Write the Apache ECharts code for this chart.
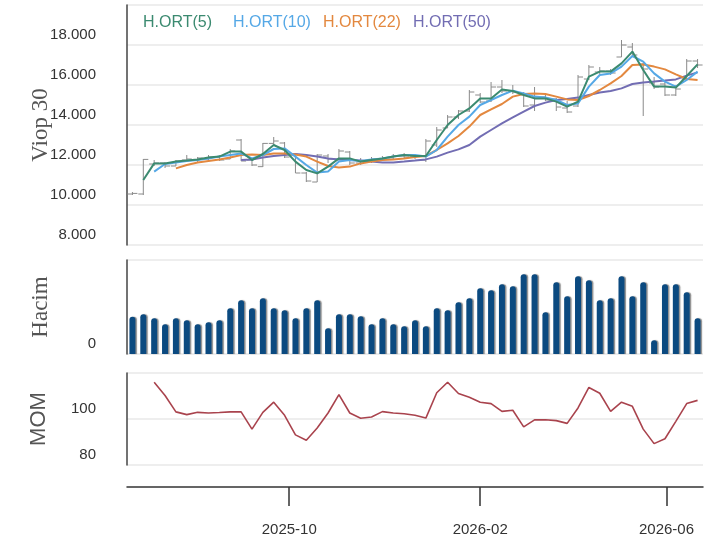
<!DOCTYPE html>
<html>
<head>
<meta charset="utf-8">
<script src="https://cdn.jsdelivr.net/npm/echarts@6/dist/echarts.min.js"></script>
<style>
  html, body { margin: 0; padding: 0; background: #fff; }
  #main { width: 727px; height: 545px; }
</style>
</head>
<body>
<div id="main"></div>
<script>
// weekly bars
const dates = [
  "2025-06-22", "2025-06-29", "2025-07-06", "2025-07-13", "2025-07-20", "2025-07-27",
  "2025-08-03", "2025-08-10", "2025-08-17", "2025-08-24", "2025-08-31",
  "2025-09-07", "2025-09-14", "2025-09-21", "2025-09-28",
  "2025-10-05", "2025-10-12", "2025-10-19", "2025-10-26",
  "2025-11-02", "2025-11-09", "2025-11-16", "2025-11-23", "2025-11-30",
  "2025-12-07", "2025-12-14", "2025-12-21", "2025-12-28",
  "2026-01-04", "2026-01-11", "2026-01-18", "2026-01-25",
  "2026-02-01", "2026-02-08", "2026-02-15", "2026-02-22",
  "2026-03-01", "2026-03-08", "2026-03-15", "2026-03-22", "2026-03-29",
  "2026-04-05", "2026-04-12", "2026-04-19", "2026-04-26",
  "2026-05-03", "2026-05-10", "2026-05-17", "2026-05-24", "2026-05-31",
  "2026-06-07", "2026-06-14", "2026-06-21"
];

const opens = [10550, 10550, 12050, 12100, 11950, 12250, 12250, 12300, 12400, 12300, 13250,
  12250, 11917, 13080, 13100, 12500, 11600, 11150, 12450, 12300, 12650, 12100, 12200,
  12300, 12350, 12450, 12400, 12250, 13000, 13850, 14400, 14700, 15500, 15200, 15900,
  15700, 15550, 15000, 15400, 15300, 14850, 14950, 16300, 16650, 16700, 17400, 17900,
  17050, 16100, 16050, 15500, 16300, 17200];
const closes = [10580, 12280, 12100, 11950, 12200, 12300, 12350, 12400, 12250, 12700, 12200,
  12000, 13080, 13200, 12400, 11600, 11200, 12500, 12300, 12700, 12100, 12200, 12300,
  12350, 12450, 12400, 12450, 13200, 13750, 14400, 14700, 15650, 15150, 15900, 15700,
  15650, 14950, 15400, 15250, 14900, 14650, 16400, 16900, 16700, 16600, 18000, 17500,
  16800, 15900, 15500, 15800, 17200, 17000];
const lows = [10500, 10500, 11950, 11850, 11950, 12200, 12150, 12250, 12200, 12300, 12200,
  11950, 11900, 12950, 12350, 11600, 11150, 11150, 12100, 12250, 12000, 12000, 12100,
  12200, 12300, 12350, 12300, 12150, 12900, 13850, 14300, 14650, 15100, 15150, 15600,
  15550, 14900, 14700, 15200, 14700, 14600, 14900, 16250, 16550, 16500, 17400, 17400,
  14450, 15800, 15450, 15450, 16300, 16850];
const highs = [10650, 12300, 12250, 12150, 12250, 12500, 12400, 12500, 12500, 12800, 13300,
  12300, 13100, 13400, 13150, 12600, 11650, 12550, 12550, 12800, 12700, 12350, 12400,
  12450, 12550, 12600, 12550, 13300, 13900, 14500, 14750, 15750, 15600, 16150, 16250,
  16000, 15650, 15900, 15550, 15350, 15200, 16500, 17000, 16900, 16800, 18250, 18100,
  17100, 16400, 16200, 16000, 17300, 17300];

const ma5 = [null, 11250, 12080, 12080, 12170, 12220, 12280, 12380, 12420, 12670, 12670,
  12250, 12550, 13000, 12750, 12170, 11750, 11580, 11920, 12330, 12330, 12170, 12250,
  12330, 12420, 12500, 12450, 12450, 13250, 14000, 14500, 14830, 15330, 15330, 15780,
  15700, 15500, 15330, 15330, 15170, 14920, 15170, 16420, 16670, 16670, 17080, 17670,
  16750, 15920, 15920, 15870, 16450, 17030];
const ma10 = [null, null, 11670, 12050, 12130, 12200, 12250, 12330, 12420, 12500, 12580,
  12330, 12500, 12800, 12830, 12420, 12000, 11620, 11670, 12170, 12250, 12200, 12280,
  12330, 12420, 12500, 12500, 12420, 12750, 13420, 14000, 14420, 15000, 15250, 15500,
  15720, 15580, 15420, 15370, 15250, 15000, 15080, 15920, 16500, 16580, 16920, 17450,
  17170, 16580, 16170, 15920, 16250, 16670];
const ma22 = [null, null, null, null, 11830, 12000, 12120, 12200, 12280, 12380, 12500,
  12530, 12500, 12580, 12580, 12530, 12420, 12170, 11950, 11880, 11920, 12080, 12170,
  12250, 12280, 12330, 12400, 12450, 12750, 13080, 13450, 13920, 14500, 14780, 15050,
  15420, 15550, 15580, 15550, 15420, 15280, 15250, 15450, 15750, 16080, 16450, 17000,
  17030, 16920, 16780, 16530, 16300, 16250];
const ma50 = [null, null, null, null, null, null, null, null, null, null, 12250,
  12280, 12380, 12450, 12500, 12550, 12500, 12420, 12330, 12280, 12250, 12220, 12170,
  12130, 12130, 12170, 12220, 12280, 12420, 12620, 12780, 13000, 13420, 13750, 14080,
  14380, 14670, 14950, 15120, 15250, 15300, 15370, 15500, 15620, 15700, 15830, 16050,
  16130, 16170, 16220, 16280, 16470, 16630];

const volumes = [397, 422, 380, 316, 380, 359, 316, 337, 359, 486, 571, 486, 593, 486,
  465, 380, 486, 571, 273, 422, 422, 401, 316, 380, 316, 295, 359, 295, 486, 465, 550,
  593, 699, 678, 741, 720, 848, 848, 444, 763, 614, 827, 784, 571, 593, 827, 614, 763,
  146, 741, 741, 656, 380];

const mom = [null, null, 116.0, 110.2, 103.1, 101.9, 102.9, 102.6, 102.8, 103.1, 103.1,
  95.6, 102.9, 107.3, 101.6, 93.1, 90.8, 96.1, 102.6, 110.6, 102.6, 100.3, 100.9, 103.2,
  102.6, 102.3, 101.6, 100.4, 111.4, 116.0, 111.1, 109.5, 107.3, 106.7, 103.3, 103.8,
  96.6, 99.6, 99.7, 99.3, 98.1, 104.8, 113.7, 111.2, 103.3, 107.3, 105.5, 95.6, 89.3,
  91.4, 99.0, 106.7, 108.1];

const dateTicks = ["2025-10-01", "2026-02-01", "2026-06-01"];

const maNames = ["H.ORT(5)", "H.ORT(10)", "H.ORT(22)", "H.ORT(50)"];
const maColors = ["#3b8a70", "#55a8e6", "#e3883f", "#726db3"];

document.addEventListener("DOMContentLoaded", function () {
  const chart = echarts.init(document.getElementById("main"));

  const dayMs = 24 * 3600 * 1000;
  const toTime = (s) => {
    const p = s.split("-");
    return new Date(+p[0], +p[1] - 1, +p[2]).getTime();
  };
  const xMin = toTime(dates[0]) - 3.5 * dayMs;
  const xMax = toTime(dates[dates.length - 1]) + 3.5 * dayMs;
  const tickValues = dateTicks.map(toTime);

  const thousands = (v) => String(v).replace(/\B(?=(\d{3})+(?!\d))/g, ".");
  const labelFont = {
    fontFamily: "Liberation Sans",
    fontSize: 15,
    color: "#333",
  };
  // y labels sit a little above their grid lines, as in the original
  const yLabel = (fmt) =>
    Object.assign({}, labelFont, {
      margin: 31,
      verticalAlign: "bottom",
      lineHeight: 20,
      formatter: fmt,
    });
  const gridLine = { lineStyle: { color: "#e8e8e8", width: 1.5 } };
  const leftLine = { show: true, lineStyle: { color: "#444", width: 1.5 } };

  const ohlc = dates.map((d, i) => [toTime(d), opens[i], closes[i], lows[i], highs[i]]);
  const pairs = (arr) => dates.map((d, i) => [toTime(d), arr[i]]);

  function renderOhlc(params, api) {
    const t = api.value(0);
    const o = api.coord([t, api.value(1)]);
    const c = api.coord([t, api.value(2)]);
    const lo = api.coord([t, api.value(3)]);
    const hi = api.coord([t, api.value(4)]);
    const w = 5;
    const style = { stroke: "#8a8a8a", lineWidth: 1 };
    return {
      type: "group",
      children: [
        { type: "line", shape: { x1: hi[0], y1: hi[1], x2: lo[0], y2: lo[1] }, style: style },
        { type: "line", shape: { x1: o[0] - w, y1: o[1], x2: o[0], y2: o[1] }, style: style },
        { type: "line", shape: { x1: c[0], y1: c[1], x2: c[0] + w, y2: c[1] }, style: style },
      ],
    };
  }

  // dates as plain timestamps on a value axis so ticks can sit on chosen months
  const dateAxis = (idx, visible) => ({
    type: "value",
    gridIndex: idx,
    min: xMin,
    max: xMax,
    show: visible,
    splitLine: { show: false },
  });

  const legends = maNames.map((name, i) => ({
    data: [name],
    left: 132 + i * 90,
    top: 10,
    itemWidth: 0,
    itemHeight: 0,
    selectedMode: false,
    textStyle: {
      color: maColors[i],
      fontSize: 16,
      fontFamily: "Liberation Sans",
    },
  }));

  const maSeries = [ma50, ma22, ma10, ma5].map((arr, k) => {
    const i = 3 - k;
    return {
      name: maNames[i],
      type: "line",
      xAxisIndex: 0,
      yAxisIndex: 0,
      data: pairs(arr),
      showSymbol: false,
      lineStyle: { color: maColors[i], width: 2 },
      itemStyle: { color: maColors[i] },
    };
  });

  const serifName = { fontFamily: "Liberation Serif", fontSize: 23, color: "#555" };

  const option = {
    animation: false,
    backgroundColor: "#fff",
    legend: legends,
    grid: [
      { left: 127, right: 24, top: 5, height: 240 },
      { left: 127, right: 24, top: 260, height: 94 },
      { left: 127, right: 24, top: 373, height: 92 },
    ],
    xAxis: [
      dateAxis(0, false),
      dateAxis(1, false),
      Object.assign(dateAxis(2, true), {
        offset: 22,
        axisLine: { lineStyle: { color: "#333", width: 1.5 } },
        axisTick: {
          customValues: tickValues,
          length: 19,
          lineStyle: { color: "#333", width: 1.5 },
        },
        axisLabel: Object.assign({}, labelFont, {
          customValues: tickValues,
          margin: 35,
          formatter: function (v) {
            const d = new Date(v);
            const m = d.getMonth() + 1;
            return d.getFullYear() + "-" + (m < 10 ? "0" + m : m);
          },
        }),
      }),
    ],
    yAxis: [
      {
        type: "value",
        gridIndex: 0,
        min: 8000,
        max: 20000,
        interval: 2000,
        axisLine: leftLine,
        axisTick: { show: false },
        splitLine: gridLine,
        axisLabel: yLabel((v) => (v >= 20000 ? "" : thousands(v))),
        name: "Viop 30",
        nameLocation: "middle",
        nameGap: 75,
        nameMoveOverlap: false,
        nameTextStyle: serifName,
      },
      {
        type: "value",
        gridIndex: 1,
        min: 0,
        max: 1000,
        interval: 1000,
        axisLine: leftLine,
        axisTick: { show: false },
        splitLine: gridLine,
        axisLabel: yLabel((v) => (v === 0 ? "0" : "")),
        name: "Hacim",
        nameLocation: "middle",
        nameGap: 75,
        nameMoveOverlap: false,
        nameTextStyle: serifName,
      },
      {
        type: "value",
        gridIndex: 2,
        min: 80,
        max: 120,
        interval: 20,
        axisLine: leftLine,
        axisTick: { show: false },
        splitLine: gridLine,
        axisLabel: yLabel((v) => (v >= 120 ? "" : String(v))),
        name: "MOM",
        nameLocation: "middle",
        nameGap: 77,
        nameMoveOverlap: false,
        nameTextStyle: { fontFamily: "Liberation Sans", fontSize: 22, color: "#555" },
      },
    ],
    series: [
      {
        name: "OHLC",
        type: "custom",
        xAxisIndex: 0,
        yAxisIndex: 0,
        renderItem: renderOhlc,
        encode: { x: 0, y: [1, 2, 3, 4] },
        data: ohlc,
        clip: true,
      },
    ].concat(maSeries, [
      {
        name: "Hacim",
        type: "bar",
        xAxisIndex: 1,
        yAxisIndex: 1,
        data: pairs(volumes),
        barWidth: 6,
        itemStyle: {
          color: "#0b4a80",
          borderRadius: [3, 3, 0, 0],
          shadowColor: "rgba(0,0,0,0.45)",
          shadowOffsetX: 1.5,
          shadowBlur: 1,
        },
      },
      {
        name: "MOM",
        type: "line",
        xAxisIndex: 2,
        yAxisIndex: 2,
        data: pairs(mom),
        showSymbol: false,
        lineStyle: { color: "#a9434d", width: 1.6 },
        itemStyle: { color: "#a9434d" },
      },
    ]),
  };

  chart.setOption(option);
});
</script>
</body>
</html>
